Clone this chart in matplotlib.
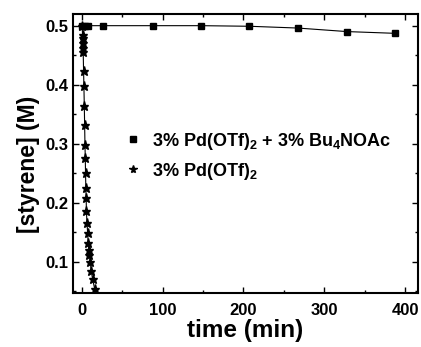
import numpy as np
import matplotlib
matplotlib.use("Agg")
import matplotlib.pyplot as plt
from matplotlib.ticker import MultipleLocator

plt.rcParams['font.family'] = ['Liberation Sans', 'DejaVu Sans']
plt.rcParams['font.weight'] = 'bold'
plt.rcParams['mathtext.fontset'] = 'custom'
plt.rcParams['mathtext.rm'] = 'Liberation Sans:bold'
plt.rcParams['mathtext.default'] = 'rm'

# with Bu4NOAc additive (squares)
t_sq = [0, 3.7, 7.8, 26.4, 87.6, 147.8, 207.2, 267, 328, 388]
c_sq = [0.500, 0.500, 0.500, 0.500, 0.500, 0.500, 0.499, 0.496, 0.490, 0.487]

# Pd(OTf)2 only (stars)
t_st = [0.5, 1.0, 1.2, 1.4, 1.6, 1.8, 2.3, 2.7, 3.2, 3.6, 4.0, 4.4, 4.7, 5.1,
        5.5, 5.8, 6.5, 7.3, 8.0, 8.8, 9.5, 10.5, 11.8, 13.5, 16.0]
c_st = [0.500, 0.485, 0.479, 0.471, 0.462, 0.456, 0.423, 0.397, 0.363, 0.332,
        0.298, 0.276, 0.250, 0.225, 0.208, 0.185, 0.166, 0.149, 0.132, 0.120,
        0.112, 0.100, 0.084, 0.070, 0.054]

lab_sq = r"3% Pd(OTf)$_2$ + 3% Bu$_4$NOAc"
lab_st = r"3% Pd(OTf)$_2$"

fig = plt.figure(figsize=(4.21, 3.47), dpi=100)
ax = fig.add_axes((0.173, 0.156, 0.820, 0.804))

ax.plot(t_sq, c_sq, color="black", lw=0.8, marker="s", ms=4.5, label=lab_sq)
ax.plot(t_st, c_st, color="black", lw=0.8, marker="*", ms=6.5, label=lab_st)

ax.set_xlim(-11, 416)
ax.set_ylim(0.047, 0.52)
ax.xaxis.set_major_locator(MultipleLocator(100))
ax.xaxis.set_minor_locator(MultipleLocator(50))
ax.yaxis.set_major_locator(MultipleLocator(0.1))
ax.yaxis.set_minor_locator(MultipleLocator(0.05))
ax.tick_params(which="both", direction="in", top=True, right=True, width=1.0)
ax.tick_params(which="major", length=4, labelsize=12)
ax.tick_params(which="minor", length=2)
ax.tick_params(axis="x", which="major", pad=7)
for s in ax.spines.values():
    s.set_linewidth(1.5)

ax.set_xlabel("time (min)", fontsize=17.5, fontweight="bold", labelpad=1)
ax.set_ylabel("[styrene] (M)", fontsize=16.5, fontweight="bold")
ax.yaxis.set_label_coords(-0.095, 0.46)

leg = ax.legend(loc="center left", bbox_to_anchor=(0.105, 0.49), frameon=False,
                fontsize=13, handlelength=0.8, handletextpad=0.7,
                labelspacing=0.5, markerscale=0.9)
for h in leg.legend_handles:
    h.set_linestyle("none")

fig.savefig("out.png", dpi=100)
